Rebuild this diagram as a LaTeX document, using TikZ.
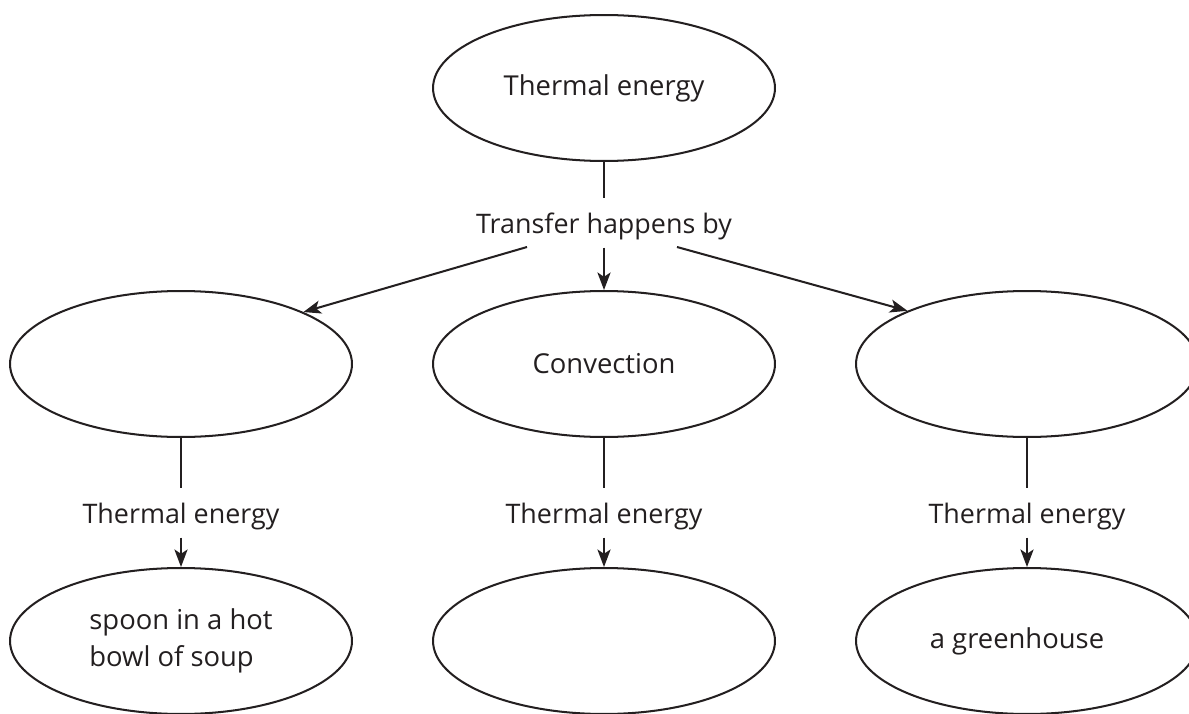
\documentclass[tikz,border=0pt]{standalone}
\usepackage{fontspec}
\setmainfont{Open Sans}
\usetikzlibrary{shapes.geometric,arrows.meta}
\definecolor{ink}{RGB}{35,31,32}
\tikzset{
  bubble/.style={draw, ellipse, minimum width=6.84cm, minimum height=2.92cm,
    inner sep=0pt, align=left, font=\fontsize{15.6}{21}\selectfont},
  lab/.style={anchor=base, inner sep=0pt, text height=0.68cm, text depth=0.27cm,
    font=\fontsize{15.3}{18}\selectfont}
}

\begin{document}
\begin{tikzpicture}[x=0.02cm, y=-0.02cm, color=ink, line width=1.15pt,
    >={Stealth[length=10pt, width=7.5pt, inset=2.5pt]}]
         \useasboundingbox (0,0) rectangle (1189,713);
         \node [bubble] (Top) at (604, 88) {Thermal energy};
         \node [lab] (Tr) at (604, 233) {Transfer happens by};
         \coordinate (TrL) at (527, 247);
         \coordinate (TrR) at (677, 247);
         \node [bubble] (ML) at (181, 364) {};
         \node [bubble] (MC) at (604, 364) {Convection};
         \node [bubble] (MR) at (1027, 364) {};
         \node [lab] (EL) at (181, 523) {Thermal energy};
         \node [lab] (EC) at (604, 523) {Thermal energy};
         \node [lab] (ER) at (1027, 523) {Thermal energy};
         \node [bubble] (BL) at (181, 641) {spoon in a hot\\bowl of soup\hspace{0.2cm}};
         \node [bubble] (BC) at (604, 641) {};
         \node [bubble] (BR) at (1027, 641) {a greenhouse\hspace{0.4cm}};
         \draw (Top) -- (Tr);
         \draw [->] (Tr) -- (MC);
         \draw [->] (TrL) -- (ML.23);
         \draw [->] (TrR) -- (MR.156);
         \draw (ML) -- (EL);
         \draw (MC) -- (EC);
         \draw (MR) -- (ER);
         \draw [->] (EL) -- (BL);
         \draw [->] (EC) -- (BC);
         \draw [->] (ER) -- (BR);
\end{tikzpicture}
\end{document}
